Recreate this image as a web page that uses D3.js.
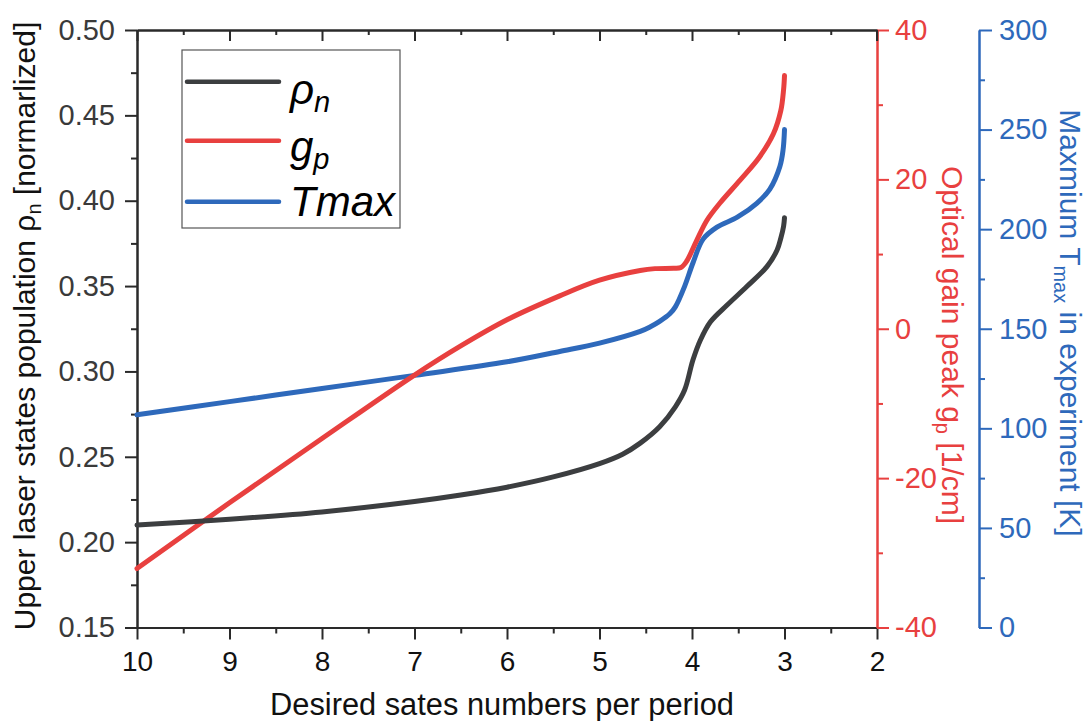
<!DOCTYPE html>
<html>
<head>
<meta charset="utf-8">
<script src="https://cdn.jsdelivr.net/npm/d3@7"></script>
<style>
  html, body { margin: 0; padding: 0; background: #fff; }
  svg { display: block; font-family: "Liberation Sans", Arial, sans-serif; }
</style>
</head>
<body>
<svg id="chart" width="1086" height="721"></svg>
<script>
// Upper laser states population rho_n (normalized, left axis) vs. desired states per period
const rhoStates = [10, 9, 8, 7, 6.5, 6, 5.5, 5.0, 4.75, 4.56, 4.35, 4.18, 4.08, 3.99, 3.91, 3.8, 3.62,
                   3.41, 3.19, 3.08, 3.04, 3.01, 3.0];
const rhoN = [0.210, 0.2134, 0.2177, 0.2238, 0.2276, 0.2322, 0.2382, 0.2460, 0.2515, 0.2580,
              0.2676, 0.2793, 0.2891, 0.3067, 0.3183, 0.3291, 0.3389, 0.3496, 0.3614, 0.3711,
              0.378, 0.385, 0.390];

// Optical gain peak g_p in 1/cm (red axis)
const gainStates = [10, 9, 8, 7, 6.5, 6, 5.43, 5.0, 4.56, 4.4, 4.2, 4.12, 4.06, 3.95, 3.84, 3.7,
                    3.48, 3.27, 3.12, 3.04, 3.01, 3.0];
const gainPeak = [-32.1, -23.3, -14.7, -6.2, -2.3, 1.2, 4.4, 6.5, 7.8, 8.05, 8.1, 8.2, 9.0, 11.8,
                  14.5, 16.8, 19.9, 23.0, 26.1, 29.2, 32.0, 33.9];

// Maximum T_max in experiment in K (blue axis)
const tmaxStates = [10, 9, 8, 7, 6, 5.43, 5.0, 4.56, 4.45, 4.35, 4.24, 4.18, 4.08, 3.99,
                    3.88, 3.73, 3.51, 3.3, 3.16, 3.05, 3.015, 3.0];
const tMax = [106.8, 113.4, 120.0, 126.6, 133.4, 138.6, 142.8, 148.7, 151.0, 153.7, 157.5, 161.0,
              171.3, 183.0, 195.0, 201.0, 206.0, 213.0, 220.0, 231.5, 240.0, 250.0];

// Tick values
const xTicks = [10, 9, 8, 7, 6, 5, 4, 3, 2];
const xMinorTicks = [9.5, 8.5, 7.5, 6.5, 5.5, 4.5, 3.5, 2.5];
const leftTicks = [0.15, 0.20, 0.25, 0.30, 0.35, 0.40, 0.45, 0.50];
const leftMinorTicks = [0.175, 0.225, 0.275, 0.325, 0.375, 0.425, 0.475];
const redTicks = [-40, -20, 0, 20, 40];
const redMinorTicks = [-30, -10, 10, 30];
const blueTicks = [0, 50, 100, 150, 200, 250, 300];
const blueMinorTicks = [25, 75, 125, 175, 225, 275];

const BLACK = "#3c3e40", RED = "#e8403f", BLUE = "#2e69bb";
const AXIS = "#2a2a2a";

const svg = d3.select("#chart");

const plot = { left: 137, right: 877, top: 30, bottom: 627.5 };
const x = d3.scaleLinear().domain([10, 2]).range([plot.left, plot.right]);
const yL = d3.scaleLinear().domain([0.15, 0.50]).range([plot.bottom, plot.top]);
const yR = d3.scaleLinear().domain([-40, 40]).range([plot.bottom, plot.top]);
const yB = d3.scaleLinear().domain([0, 300]).range([plot.bottom, plot.top]);
const blueX = 979;

function styleAxis(g, color, size, textColor) {
  g.select(".domain").attr("stroke", color).attr("stroke-width", 2);
  g.selectAll(".tick line").attr("stroke", color).attr("stroke-width", 2);
  g.selectAll(".tick text").attr("fill", textColor || color)
    .style("font-size", size + "px").style("font-family", '"Liberation Sans", Arial, sans-serif');
}

// Bottom axis
const gx = svg.append("g").attr("transform", `translate(0,${plot.bottom})`)
  .call(d3.axisBottom(x).tickValues(xTicks).tickFormat(d3.format("d")).tickSize(12).tickSizeOuter(0).tickPadding(12));
styleAxis(gx, AXIS, 28, "#111");
const gxm = svg.append("g").attr("transform", `translate(0,${plot.bottom})`)
  .call(d3.axisBottom(x).tickValues(xMinorTicks).tickFormat("").tickSize(6).tickSizeOuter(0));
styleAxis(gxm, AXIS, 28);

// Top frame with inward ticks
const gt = svg.append("g").attr("transform", `translate(0,${plot.top})`)
  .call(d3.axisBottom(x).tickValues(xTicks).tickFormat("").tickSize(11).tickSizeOuter(0));
styleAxis(gt, AXIS, 28);
const gtm = svg.append("g").attr("transform", `translate(0,${plot.top})`)
  .call(d3.axisBottom(x).tickValues(xMinorTicks).tickFormat("").tickSize(5).tickSizeOuter(0));
styleAxis(gtm, AXIS, 28);

// Left axis
const gl = svg.append("g").attr("transform", `translate(${plot.left},0)`)
  .call(d3.axisLeft(yL).tickValues(leftTicks).tickFormat(d3.format(".2f")).tickSize(12).tickSizeOuter(0).tickPadding(10));
styleAxis(gl, AXIS, 29, "#3a3a3a");
const glm = svg.append("g").attr("transform", `translate(${plot.left},0)`)
  .call(d3.axisLeft(yL).tickValues(leftMinorTicks).tickFormat("").tickSize(6).tickSizeOuter(0));
styleAxis(glm, AXIS, 28);

// Red (gain) axis, labels with a plain hyphen for negatives
const gr = svg.append("g").attr("transform", `translate(${plot.right},0)`)
  .call(d3.axisRight(yR).tickValues(redTicks).tickFormat(d => String(d)).tickSize(12).tickSizeOuter(0).tickPadding(6));
styleAxis(gr, RED, 29);
const grm = svg.append("g").attr("transform", `translate(${plot.right},0)`)
  .call(d3.axisRight(yR).tickValues(redMinorTicks).tickFormat("").tickSize(6).tickSizeOuter(0));
styleAxis(grm, RED, 28);

// Blue (Tmax) axis
const gb = svg.append("g").attr("transform", `translate(${blueX},0)`)
  .call(d3.axisRight(yB).tickValues(blueTicks).tickFormat(d3.format("d")).tickSize(13).tickSizeOuter(0).tickPadding(7));
styleAxis(gb, BLUE, 29);
const gbm = svg.append("g").attr("transform", `translate(${blueX},0)`)
  .call(d3.axisRight(yB).tickValues(blueMinorTicks).tickFormat("").tickSize(6).tickSizeOuter(0));
styleAxis(gbm, BLUE, 28);

// Short black corner stub where the top frame meets the red axis
svg.append("line").attr("x1", plot.right).attr("x2", plot.right)
  .attr("y1", plot.top).attr("y2", plot.top + 11).attr("stroke", AXIS).attr("stroke-width", 2);

// Curves
const series = [
  { states: tmaxStates, values: tMax, y: yB, color: BLUE },
  { states: gainStates, values: gainPeak, y: yR, color: RED },
  { states: rhoStates, values: rhoN, y: yL, color: BLACK }
];
const lineGen = d3.line().curve(d3.curveCatmullRom.alpha(0.5));
series.forEach(s => {
  const pts = s.states.map((n, i) => [x(n), s.y(s.values[i])]);
  svg.append("path")
    .attr("d", lineGen(pts))
    .attr("fill", "none")
    .attr("stroke", s.color)
    .attr("stroke-width", 5)
    .attr("stroke-linecap", "round")
    .attr("stroke-linejoin", "round");
});

// Axis titles
svg.append("text")
  .attr("x", 502).attr("y", 715)
  .attr("text-anchor", "middle").attr("fill", "#111")
  .style("font-size", "30.8px")
  .text("Desired sates numbers per period");

const leftTitle = svg.append("text")
  .attr("transform", "translate(35,326) rotate(-90)")
  .attr("text-anchor", "middle").attr("fill", "#111")
  .style("font-size", "30px");
leftTitle.append("tspan").text("Upper laser states population \u03c1");
leftTitle.append("tspan").attr("dy", 6).style("font-size", "20px").text("n");
leftTitle.append("tspan").attr("dy", -6).text(" [normarlized]");

const redTitle = svg.append("text")
  .attr("transform", "translate(942,345) rotate(90)")
  .attr("text-anchor", "middle").attr("fill", RED)
  .style("font-size", "30px");
redTitle.append("tspan").text("Optical gain peak g");
redTitle.append("tspan").attr("dy", 6).style("font-size", "20px").text("p");
redTitle.append("tspan").attr("dy", -6).text(" [1/cm]");

const blueTitle = svg.append("text")
  .attr("transform", "translate(1060,323) rotate(90)")
  .attr("text-anchor", "middle").attr("fill", BLUE)
  .style("font-size", "30px");
blueTitle.append("tspan").text("Maxmium T");
blueTitle.append("tspan").attr("dy", 6).style("font-size", "20px").text("max");
blueTitle.append("tspan").attr("dy", -6).text(" in experiment [K]");

// Legend
const legend = svg.append("g");
legend.append("rect").attr("x", 182).attr("y", 50).attr("width", 218).attr("height", 178)
  .attr("fill", "#fff").attr("stroke", "#555").attr("stroke-width", 1.2);
const legendRows = [
  { color: BLACK, y: 81.7, main: "\u03c1", sub: "n", base: 104 },
  { color: RED, y: 140.7, main: "g", sub: "p", base: 161 },
  { color: BLUE, y: 201.7, main: "Tmax", sub: "", base: 216 }
];
legendRows.forEach(r => {
  legend.append("line").attr("x1", 187).attr("x2", 279).attr("y1", r.y).attr("y2", r.y)
    .attr("stroke", r.color).attr("stroke-width", 4.5).attr("stroke-linecap", "round");
  const t = legend.append("text").attr("x", 290).attr("y", r.base)
    .attr("fill", "#000").style("font-style", "italic").style("font-size", "42px");
  t.append("tspan").text(r.main);
  if (r.sub) t.append("tspan").attr("dy", 8).style("font-size", "29px").text(r.sub);
});
</script>
</body>
</html>
